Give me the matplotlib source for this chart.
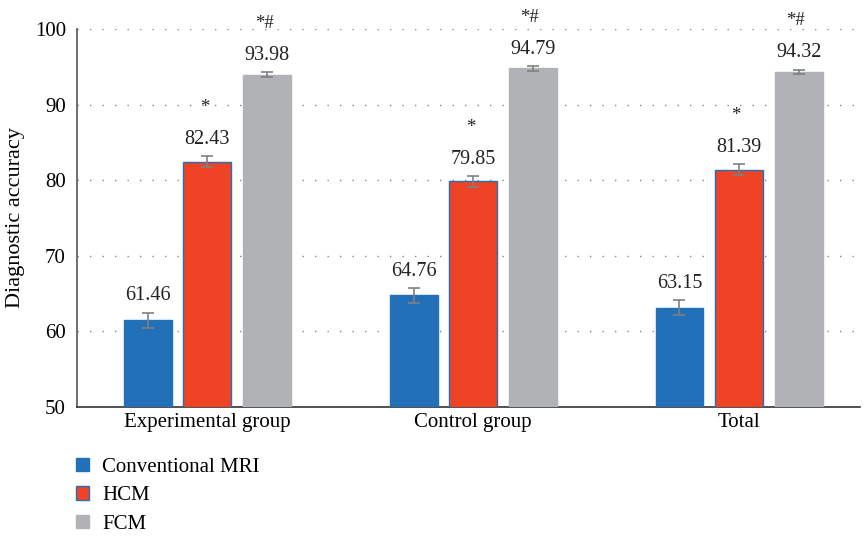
import matplotlib.pyplot as plt
import numpy as np
from matplotlib.patches import Patch

plt.rcParams['font.family'] = ['Liberation Serif', 'DejaVu Serif']

groups = ['Experimental group', 'Control group', 'Total']
methods = ['Conventional MRI', 'HCM', 'FCM']
values = {
    'Conventional MRI': [61.46, 64.76, 63.15],
    'HCM': [82.43, 79.85, 81.39],
    'FCM': [93.98, 94.79, 94.32],
}
errors = {
    'Conventional MRI': [1.0, 0.95, 0.95],
    'HCM': [0.73, 0.7, 0.7],
    'FCM': [0.3, 0.3, 0.3],
}
marks = {'Conventional MRI': '', 'HCM': '*', 'FCM': '*#'}
colors = {'Conventional MRI': '#2270B8', 'HCM': '#EE4325', 'FCM': '#B1B2B6'}
edges = {'Conventional MRI': '#2270B8', 'HCM': '#2270B8', 'FCM': '#B1B2B6'}

fs = 15
fig = plt.figure(figsize=(8.64, 5.37), dpi=100)
ax = fig.add_axes([77 / 864, 130 / 537, 783 / 864, 378 / 537])

x = np.arange(len(groups))
width = 0.18
step = 0.224
for i, m in enumerate(methods):
    xs = x + (i - 1) * step
    ax.bar(xs, values[m], width, color=colors[m], edgecolor=edges[m],
           linewidth=1, zorder=3, label=m)
    ax.errorbar(xs, values[m], yerr=errors[m], fmt='none', ecolor='#808080',
                elinewidth=1.2, capsize=4, capthick=1.2, zorder=4)
    for xi, v, e in zip(xs, values[m], errors[m]):
        ax.annotate(f'{v:.2f}', (xi, v + e), xytext=(0, 9),
                    textcoords='offset points', ha='center', va='baseline',
                    fontsize=14.5, color='#222222', annotation_clip=False)
        if marks[m]:
            ax.annotate(marks[m], (xi, v + e), xytext=(-2, 32),
                        textcoords='offset points', ha='center', va='baseline',
                        fontsize=13.5, color='#222222', annotation_clip=False)

ax.set_ylim(50, 100)
ax.set_xlim(-0.49, 2.455)
ax.set_yticks([50, 60, 70, 80, 90, 100])
ax.set_xticks(x)
ax.set_xticklabels(groups, fontsize=fs)
ax.tick_params(axis='y', labelsize=fs, length=0, pad=8)
ax.tick_params(axis='x', length=0, pad=4)
ax.yaxis.grid(True, linestyle=(0, (1, 8)), color='#888888', linewidth=1, zorder=0)
for s in ['top', 'right']:
    ax.spines[s].set_visible(False)
ax.spines['left'].set_color('#555555')
ax.spines['bottom'].set_color('#333333')
ax.spines['left'].set_linewidth(1.2)
ax.spines['bottom'].set_linewidth(1.2)
ax.set_ylabel('Diagnostic accuracy', fontsize=16, labelpad=7)

handles = [Patch(facecolor=colors[m], edgecolor=edges[m]) for m in methods]
fig.legend(handles, methods, loc='upper left', bbox_to_anchor=(76 / 864, 1 - 458 / 537),
           frameon=False, fontsize=fs, handlelength=0.6, handleheight=0.6,
           handletextpad=0.65, labelspacing=0.45, borderaxespad=0, borderpad=0)

fig.savefig('out.png', dpi=100)
